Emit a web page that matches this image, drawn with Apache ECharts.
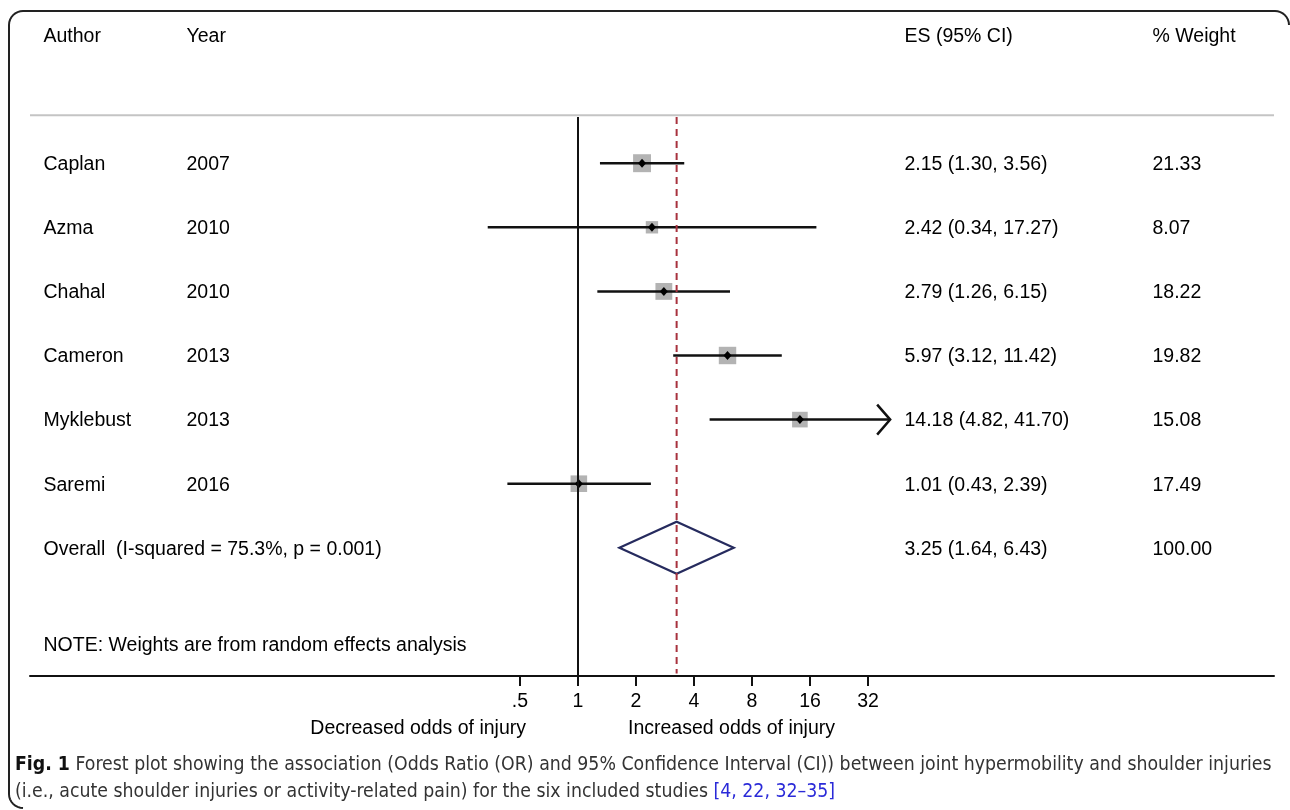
<!DOCTYPE html>
<html>
<head>
<meta charset="utf-8">
<script src="https://cdn.jsdelivr.net/npm/echarts@6/dist/echarts.min.js"></script>
<style>html,body{margin:0;padding:0;background:#fff}#c{width:1290px;height:810px}</style>
</head>
<body>
<div id="c"></div>
<script>
// ---- data ----
const authors = ['Caplan', 'Azma', 'Chahal', 'Cameron', 'Myklebust', 'Saremi'];
const years = ['2007', '2010', '2010', '2013', '2013', '2016'];
const esValues = [2.15, 2.42, 2.79, 5.97, 14.18, 1.01];
const ciLower = [1.30, 0.34, 1.26, 3.12, 4.82, 0.43];
const ciUpper = [3.56, 17.27, 6.15, 11.42, 41.70, 2.39];
const weights = [21.33, 8.07, 18.22, 19.82, 15.08, 17.49];
const overallES = [3.25];
const overallLower = [1.64];
const overallUpper = [6.43];
const overallWeight = [100.00];
const overallLabel = ['Overall  (I-squared = 75.3%, p = 0.001)'];
const noteText = ['NOTE: Weights are from random effects analysis'];
const headers = ['Author', 'Year', 'ES (95% CI)', '% Weight'];
const tickValues = [0.5, 1, 2, 4, 8, 16, 32];
const tickLabels = ['.5', '1', '2', '4', '8', '16', '32'];
const axisSideLabels = ['Decreased odds of injury', 'Increased odds of injury'];

// ---- layout constants ----
const FONT = "'Liberation Sans', Arial, Helvetica, sans-serif";
const FS = 19.5;
const colX = [43, 186, 904, 1152];
const fmt = v => v.toFixed(2);

const chart = echarts.init(document.getElementById('c'), null, {renderer: 'canvas'});

// table texts
const textData = [];
headers.forEach((h, i) => textData.push([colX[i], -2, h]));
authors.forEach((a, i) => {
  textData.push([colX[0], i, a]);
  textData.push([colX[1], i, years[i]]);
  textData.push([colX[2], i, fmt(esValues[i]) + ' (' + fmt(ciLower[i]) + ', ' + fmt(ciUpper[i]) + ')']);
  textData.push([colX[3], i, fmt(weights[i])]);
});
const ovRow = authors.length;
textData.push([colX[0], ovRow, overallLabel[0]]);
textData.push([colX[2], ovRow, fmt(overallES[0]) + ' (' + fmt(overallLower[0]) + ', ' + fmt(overallUpper[0]) + ')']);
textData.push([colX[3], ovRow, fmt(overallWeight[0])]);
textData.push([colX[0], ovRow + 1.5, noteText[0]]);

const studyData = authors.map((a, i) => [esValues[i], i, ciLower[i], ciUpper[i], weights[i]]);
const maxTick = tickValues[tickValues.length - 1];

// caption font fitting
const CAP_FONT = "'Liberation Sans Narrow', 'DejaVu Sans Condensed', 'Open Sans', sans-serif";
const cap1a = 'Fig. 1';
const cap1b = ' Forest plot showing the association (Odds Ratio (OR) and 95% Confidence Interval (CI)) between joint hypermobility and shoulder injuries';
const cap2a = '(i.e., acute shoulder injuries or activity-related pain) for the six included studies ';
const cap2b = '[4, 22, 32–35]';
const cv = document.createElement('canvas').getContext('2d');
cv.font = 'bold 20px ' + CAP_FONT;
let w1 = cv.measureText(cap1a).width;
cv.font = '20px ' + CAP_FONT;
w1 += cv.measureText(cap1b).width;
const capFS = 20 * 1258 / w1;

// frame outline with rounded corners (decoration)
function arcPts(cx, cy, r, a0, a1) {
  const pts = [];
  for (let k = 0; k <= 8; k++) {
    const a = a0 + (a1 - a0) * k / 8;
    pts.push([cx + r * Math.cos(a), cy + r * Math.sin(a)]);
  }
  return pts;
}
const R = 14;
const framePts = [].concat(
  arcPts(1289 - R, 11 + R, R, 0, -Math.PI / 2),
  arcPts(9 + R, 11 + R, R, -Math.PI / 2, -Math.PI),
  arcPts(9 + R, 808 - R, R, Math.PI, Math.PI / 2)
);

const option = {
  animation: false,
  grid: {left: 30, right: 16, top: 35, bottom: 134, containLabel: false},
  xAxis: [{
    type: 'log', logBase: 2,
    min: Math.pow(2, (30 - 578) / 58), max: Math.pow(2, (1274 - 578) / 58),
    axisLine: {show: true, onZero: false, lineStyle: {color: '#111', width: 2}},
    axisTick: {show: true, length: 10, inside: false, customValues: tickValues, lineStyle: {color: '#111', width: 2}},
    axisLabel: {show: true, margin: 16, customValues: tickValues, fontFamily: FONT, fontSize: FS, color: '#000',
      formatter: v => { const k = tickValues.findIndex(t => Math.abs(t - v) < 1e-9); return k >= 0 ? tickLabels[k] : ''; }},
    splitLine: {show: false}, minorTick: {show: false}
  }, {
    type: 'value', min: 30, max: 1274, show: false
  }],
  yAxis: {type: 'value', min: -2, max: 8, inverse: true, show: false},
  series: [
    { // header rule
      type: 'line', xAxisIndex: 1, symbol: 'none', silent: true,
      data: [[30, -0.75], [1274, -0.75]],
      lineStyle: {color: '#c4c4c4', width: 2}
    },
    { // null line at OR = 1
      type: 'line', xAxisIndex: 0, symbol: 'none', silent: true,
      data: [[1, -0.72], [1, 8]],
      lineStyle: {color: '#111', width: 2}
    },
    { // overall estimate dashed line
      type: 'line', xAxisIndex: 0, symbol: 'none', silent: true,
      data: [[overallES[0], -0.72], [overallES[0], 7.96]],
      lineStyle: {color: '#a8323e', width: 2, type: [7, 5]}
    },
    { // study markers
      type: 'custom', xAxisIndex: 0, silent: true,
      encode: {x: [0, 2, 3], y: 1},
      data: studyData,
      renderItem: function (params, api) {
        const row = api.value(1);
        const c = api.coord([api.value(0), row]);
        const l = api.coord([api.value(2), row]);
        const h = api.coord([api.value(3), row]);
        const s = 3.4 + 3.15 * Math.sqrt(api.value(4));
        const ch = [
          {type: 'rect', shape: {x: c[0] - s / 2, y: c[1] - s / 2, width: s, height: s}, style: {fill: '#b3b3b3'}},
          {type: 'line', shape: {x1: l[0], y1: l[1], x2: h[0], y2: h[1]}, style: {stroke: '#111', lineWidth: 2.5}},
          {type: 'polygon', shape: {points: [[c[0] - 4, c[1]], [c[0], c[1] - 4.5], [c[0] + 4, c[1]], [c[0], c[1] + 4.5]]}, style: {fill: '#000'}}
        ];
        if (api.value(3) > maxTick) {
          ch.push({type: 'polyline', shape: {points: [[h[0] - 13, h[1] - 15], [h[0], h[1]], [h[0] - 13, h[1] + 15]]},
            style: {stroke: '#111', lineWidth: 2.5, fill: null}});
        }
        return {type: 'group', children: ch};
      }
    },
    { // overall diamond
      type: 'custom', xAxisIndex: 0, silent: true,
      encode: {x: [0, 2, 3], y: 1},
      data: [[overallES[0], ovRow, overallLower[0], overallUpper[0]]],
      renderItem: function (params, api) {
        const row = api.value(1);
        const c = api.coord([api.value(0), row]);
        const l = api.coord([api.value(2), row]);
        const h = api.coord([api.value(3), row]);
        const hh = 26;
        return {type: 'polygon', shape: {points: [[l[0], c[1]], [c[0], c[1] - hh], [h[0], c[1]], [c[0], c[1] + hh]]},
          style: {fill: null, stroke: '#262b5e', lineWidth: 2.2}};
      }
    },
    { // table text
      type: 'scatter', xAxisIndex: 1, silent: true, symbolSize: 1,
      itemStyle: {color: 'transparent', opacity: 1},
      data: textData,
      label: {show: true, position: 'right', distance: 0, offset: [0, 1.5], formatter: p => p.value[2],
        fontFamily: FONT, fontSize: FS, color: '#000', opacity: 1}
    }
  ],
  graphic: [
    {type: 'polyline', silent: true,
      shape: {points: framePts},
      style: {fill: null, stroke: '#222', lineWidth: 2}},
    {type: 'text', x: 526, y: 729, silent: true,
      style: {text: axisSideLabels[0], align: 'right', verticalAlign: 'middle', font: FS + 'px ' + FONT, fill: '#000'}},
    {type: 'text', x: 628, y: 729, silent: true,
      style: {text: axisSideLabels[1], align: 'left', verticalAlign: 'middle', font: FS + 'px ' + FONT, fill: '#000'}},
    {type: 'text', x: 15, y: 765, silent: true,
      style: {text: '{b|' + cap1a + '}{n|' + cap1b + '}', verticalAlign: 'middle',
        rich: {b: {fontFamily: CAP_FONT, fontWeight: 'bold', fontSize: capFS, fill: '#111'},
               n: {fontFamily: CAP_FONT, fontSize: capFS, fill: '#333'}}}},
    {type: 'text', x: 15, y: 792, silent: true,
      style: {text: '{n|' + cap2a + '}{c|' + cap2b + '}', verticalAlign: 'middle',
        rich: {n: {fontFamily: CAP_FONT, fontSize: capFS, fill: '#333'},
               c: {fontFamily: CAP_FONT, fontSize: capFS, fill: '#2a2ad8'}}}}
  ]
};
chart.setOption(option);
</script>
</body>
</html>
